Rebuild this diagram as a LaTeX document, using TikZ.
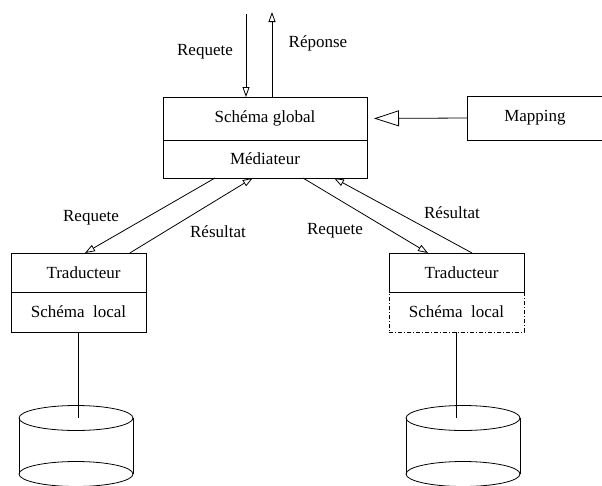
\documentclass[tikz,border=0pt]{standalone}
\usepackage{fontspec}
\setmainfont{Liberation Serif}
\usetikzlibrary{arrows.meta,calc}
\begin{document}
\begin{tikzpicture}[x=1pt,y=-1pt,line width=0.8pt,font=\fontsize{17}{20}\selectfont,
  boite/.style={anchor=north west,draw,inner sep=0pt,outer sep=0pt},
  fleche/.style={-{Triangle[open,length=10pt,width=7pt]}},
  etiquette/.style={inner sep=0pt},
  pointille/.style={dash pattern=on 4pt off 2pt on 1pt off 2pt}]
\useasboundingbox (0,0) rectangle (602,485);
% mediateur
\node[boite,minimum width=204pt,minimum height=43pt] (gschema) at (163,97) {Schéma global};
\node[boite,minimum width=204pt,minimum height=38pt] (med) at (gschema.south west) {Médiateur};
\node[boite,minimum width=136pt,minimum height=44pt] (mapping) at (467,96) {Mapping};
% traducteurs
\node[boite,minimum width=135pt,minimum height=39pt] (trad1) at (11,253) {\hspace{10pt}Traducteur};
\node[boite,minimum width=135pt,minimum height=40pt] (local1) at (trad1.south west) {Schéma~~local};
\node[boite,minimum width=135pt,minimum height=39pt] (trad2) at (389,253) {\hspace{10pt}Traducteur};
\node[boite,pointille,minimum width=135pt,minimum height=40pt] (local2) at (trad2.south west) {Schéma~~local};
% etiquettes
\node[etiquette] (lreq0) at (205,52) {Requete};
\node[etiquette] (lrep0) at (318,43) {Réponse};
\node[etiquette] (lreq1) at (91,218) {Requete};
\node[etiquette] (lres1) at (218,232) {Résultat};
\node[etiquette] (lreq2) at (335,231) {Requete};
\node[etiquette] (lres2) at (452,213) {Résultat};
% fleches
\coordinate (reqhaut) at (246,14);
\coordinate (rephaut) at (272,12);
\draw[fleche] (reqhaut) -- (reqhaut |- gschema.north);
\draw[fleche] (rephaut |- gschema.north) -- (rephaut);
\draw[-{Triangle[open,length=25pt,width=16pt]},shorten >=7pt] (mapping.west) -- (gschema.east);
\draw[fleche] ($(med.south west)!.255!(med.south east)$) -- ($(trad1.north west)!.548!(trad1.north east)$);
\draw[fleche] ($(trad1.north west)!.88!(trad1.north east)$) -- ($(med.south west)!.44!(med.south east)$);
\draw[fleche] ($(med.south west)!.686!(med.south east)$) -- ($(trad2.north west)!.289!(trad2.north east)$);
\draw[fleche] ($(trad2.north west)!.615!(trad2.north east)$) -- ($(med.south west)!.838!(med.south east)$);
% bases
\coordinate (db1) at (76,418);
\coordinate (db2) at (463,418);
\draw (local1.south) -- (local1.south |- db1);
\draw (local2.south) -- (local2.south |- db2);
\foreach \db in {db1,db2}{
  \draw (\db) ellipse [x radius=57pt,y radius=12.5pt];
  \draw (\db) ++(-57,0) -- ++(0,56) (\db) ++(57,0) -- ++(0,56);
  \draw ($(\db)+(0,56)$) ellipse [x radius=57pt,y radius=12.5pt];
}
\end{tikzpicture}
\end{document}
